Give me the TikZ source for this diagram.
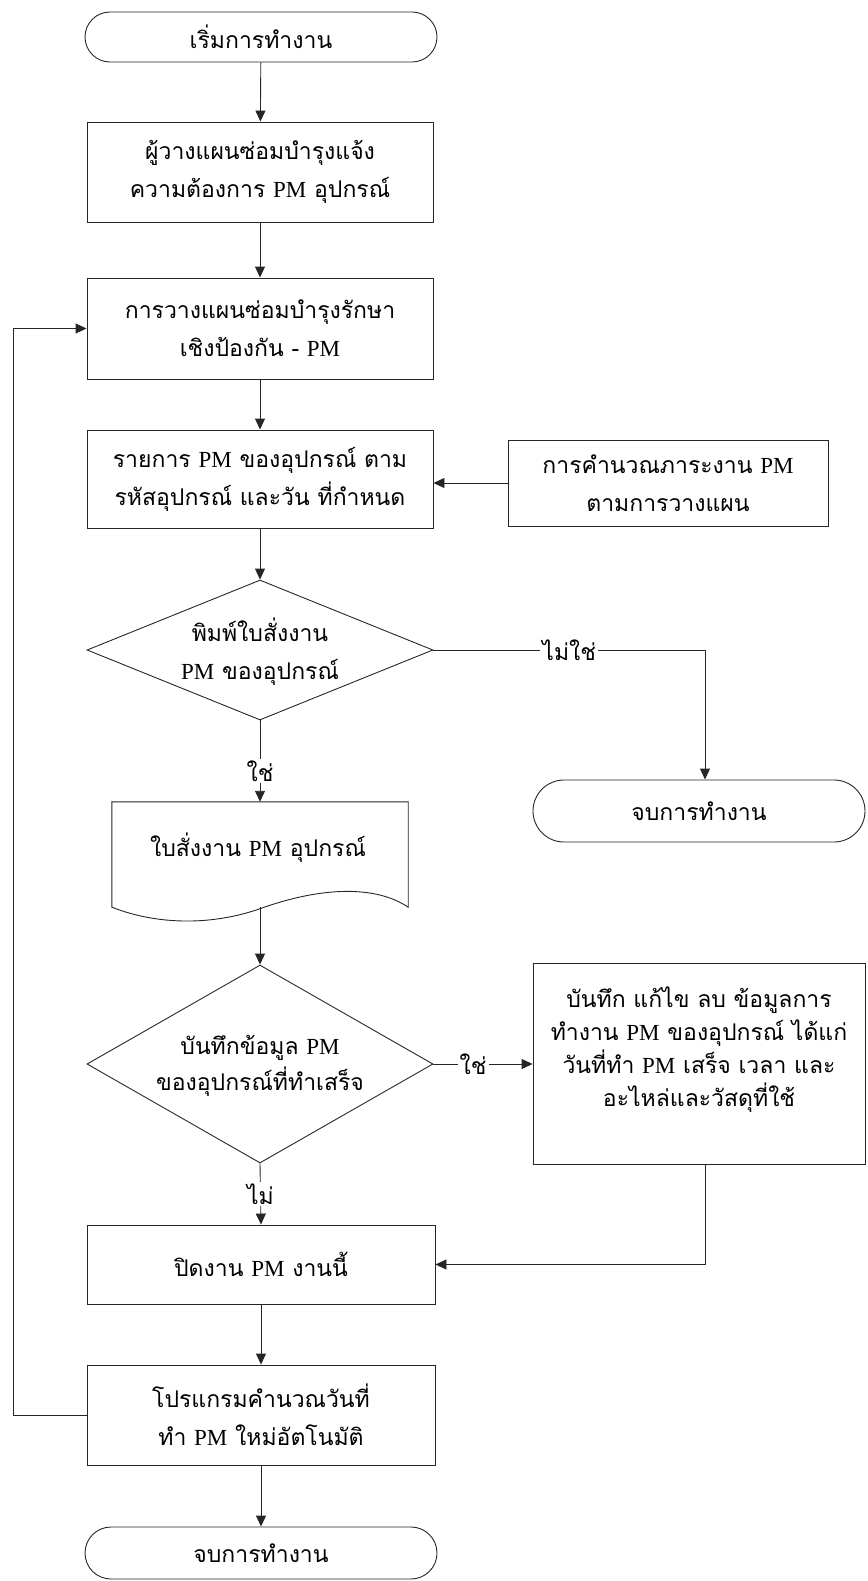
\documentclass[tikz,border=0pt]{standalone}
\usepackage{fontspec}
\setmainfont[Script=Thai]{Loma}
\newfontfamily\latinf{Liberation Serif}
\usetikzlibrary{arrows.meta,shapes.geometric,shapes.misc}
\newcommand{\PMt}{{\latinf PM}}
\tikzset{
  line/.style={draw=black!85, line width=0.9pt},
  arr/.style={line, -{Triangle[length=11pt,width=10pt]}},
  txt/.style={font=\fontsize{23}{38}\selectfont, align=center},
  boxn/.style={draw=black!85, line width=0.9pt, rectangle, inner sep=0pt, txt},
  term/.style={boxn, rounded rectangle},
  dec/.style={draw=black!85, line width=0.9pt, diamond, inner sep=0pt},
  lab/.style={fill=white, inner sep=2pt, font=\fontsize{23}{26}\selectfont},
}
\begin{document}
\begin{tikzpicture}[x=1pt,y=-1pt]
\useasboundingbox (0,0) rectangle (867,1581);
\node[term, minimum width=352pt, minimum height=50pt] (start) at (261,37) {เริ่มการทำงาน};
\node[boxn, minimum width=346pt, minimum height=100pt] (b1) at (260,172) {ผู้วางแผนซ่อมบำรุงแจ้ง\\ความต้องการ \PMt{} อุปกรณ์};
\node[boxn, minimum width=346pt, minimum height=101pt] (b2) at (260,328.5) {การวางแผนซ่อมบำรุงรักษา\\เชิงป้องกัน - \PMt};
\node[boxn, minimum width=346pt, minimum height=98pt] (b3) at (260,479) {รายการ \PMt{} ของอุปกรณ์ ตาม\\รหัสอุปกรณ์ และวัน ที่กำหนด};
\node[boxn, minimum width=320pt, minimum height=86pt] (s1) at (668,483) {การคำนวณภาระงาน \PMt\\ตามการวางแผน};
\node[dec, minimum width=346pt, minimum height=140pt] (d1) at (260,650) {};
\node[txt] (d1text) at (260,652) {พิมพ์ใบสั่งงาน\\\PMt{} ของอุปกรณ์};
\node[term, minimum width=332pt, minimum height=62pt] (t2) at (699,811) {จบการทำงาน};
\node[inner sep=0pt, minimum width=296pt, minimum height=105pt] (doc) at (260,854.5) {};
\draw[line] (doc.north west) -- (doc.north east) -- (doc.south east)
  .. controls (380,888) and (330,884) .. (262,908)
  .. controls (215,925) and (160,926) .. (doc.south west) -- cycle;
\node[txt] (doctext) at (258,848) {ใบสั่งงาน \PMt{} อุปกรณ์};
\node[dec, minimum width=346pt, minimum height=198pt] (d2) at (260,1064) {};
\node[txt, font=\fontsize{23}{36}\selectfont] (d2text) at (260,1066) {บันทึกข้อมูล \PMt\\ของอุปกรณ์ที่ทำเสร็จ};
\node[draw=black!85, line width=0.9pt, inner sep=0pt, minimum width=332pt, minimum height=201pt] (s2) at (699,1063.5) {};
\node[txt, font=\fontsize{23}{33}\selectfont] (s2text) at (699,1050) {บันทึก แก้ไข ลบ ข้อมูลการ\\ทำงาน \PMt{} ของอุปกรณ์ ได้แก่\\วันที่ทำ \PMt{} เสร็จ เวลา และ\\อะไหล่และวัสดุที่ใช้};
\node[boxn, minimum width=348pt, minimum height=79pt] (b4) at (261,1264.5) {ปิดงาน \PMt{} งานนี้};
\node[boxn, minimum width=348pt, minimum height=100pt] (b5) at (261,1415) {โปรแกรมคำนวณวันที่\\ทำ \PMt{} ใหม่อัตโนมัติ};
\node[term, minimum width=352pt, minimum height=52pt] (end) at (261,1553) {จบการทำงาน};
\coordinate (lx) at (13,0);
\coordinate (rx) at (705,0);

\draw[arr] (start) -- (b1);
\draw[arr] (b1) -- (b2);
\draw[arr] (b2) -- (b3);
\draw[arr] (b3) -- (d1.north);
\draw[arr] (s1.west) -- (s1.west -| b3.east);
\draw[arr] (d1.east) -- node[lab, pos=0.5] {ไม่ใช่} (rx |- d1.east) -- (rx |- t2.north);
\draw[arr] (d1.south) -- node[lab, pos=0.62] {ใช่} (doc.north);
\draw[arr] (doc.south) -- (d2.north);
\draw[arr] (d2.east) -- node[lab, pos=0.4] {ใช่} (s2.west |- d2.east);
\draw[arr] (d2.south) -- node[lab, pos=0.5] {ไม่} (b4.north);
\draw[arr] (rx |- s2.south) |- (b4.east);
\draw[arr] (b4) -- (b5);
\draw[arr] (b5) -- (end);
\draw[arr] (b5.west) -- (lx |- b5.west) -- (lx |- b2.west) -- (b2.west);
\end{tikzpicture}
\end{document}
